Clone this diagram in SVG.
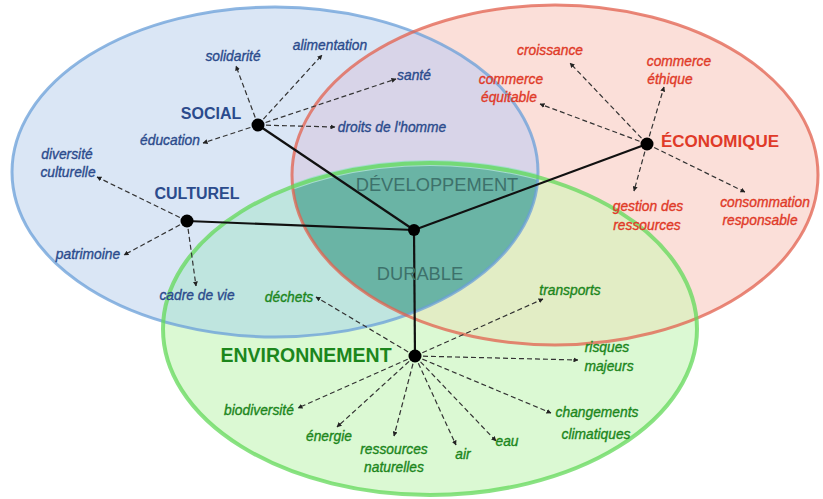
<svg xmlns="http://www.w3.org/2000/svg" width="823" height="499" viewBox="0 0 823 499">
<defs>
<style>
.lbl{font-family:"Liberation Sans",Arial,sans-serif;font-style:italic;font-size:13.8px;stroke-width:0.35}
.soc{fill:#2b4b8c;stroke:#2b4b8c}
.eco{fill:#e03a28;stroke:#e03a28}
.env{fill:#1c861c;stroke:#1c861c}
.head{font-family:"Liberation Sans",Arial,sans-serif;font-weight:bold;stroke:none}
.dev{font-family:"Liberation Sans",Arial,sans-serif;font-size:18.3px;fill:#3d716b}
.dash{stroke:#333;stroke-width:1.2;stroke-dasharray:5 3;fill:none;marker-end:url(#ah)}
.solid{stroke:#111;stroke-width:2.2;fill:none}
.dot{fill:#000}
</style>
<marker id="ah" viewBox="0 0 10 10" refX="9" refY="5" markerWidth="5" markerHeight="5" orient="auto" markerUnits="userSpaceOnUse"><path d="M0,0 L10,5 L0,10 z" fill="#222"/></marker>
<clipPath id="cB"><ellipse cx="275" cy="172" rx="263" ry="165"/></clipPath>
<clipPath id="cR"><ellipse cx="555" cy="175" rx="263" ry="170"/></clipPath>
</defs>
<g id="ellipses">
<ellipse cx="275" cy="172" rx="263" ry="165" fill="#dae6f5"/>
<ellipse cx="555" cy="175" rx="263" ry="170" fill="#fbdfd9"/>
<ellipse cx="430" cy="329" rx="267" ry="166" fill="#dbf9d3"/>
<g clip-path="url(#cB)"><ellipse cx="555" cy="175" rx="263" ry="170" fill="#d8d4e8"/><ellipse cx="430" cy="329" rx="267" ry="166" fill="#bfe5df"/></g>
<g clip-path="url(#cR)"><ellipse cx="430" cy="329" rx="267" ry="166" fill="#e2edc5"/></g>
<g clip-path="url(#cB)"><g clip-path="url(#cR)"><ellipse cx="430" cy="329" rx="267" ry="166" fill="#6ab4a5" stroke="#a6dccf" stroke-width="6"/></g></g>
<ellipse cx="275" cy="172" rx="263" ry="165" fill="none" stroke="#6a9fd8" stroke-width="3" stroke-opacity="0.75"/>
<ellipse cx="555" cy="175" rx="263" ry="170" fill="none" stroke="#e2604e" stroke-width="3" stroke-opacity="0.75"/>
<ellipse cx="430" cy="329" rx="267" ry="166" fill="none" stroke="#63d85a" stroke-width="4" stroke-opacity="0.75"/>
</g>
<g id="connectors">
<line class="solid" x1="258" y1="125" x2="414" y2="230"/>
<line class="solid" x1="187" y1="221" x2="414" y2="230"/>
<line class="solid" x1="647" y1="144" x2="414" y2="230"/>
<line class="solid" x1="414" y1="230" x2="415" y2="356"/>
<line class="dash" x1="258" y1="125" x2="236" y2="66"/>
<line class="dash" x1="258" y1="125" x2="322" y2="55"/>
<line class="dash" x1="258" y1="125" x2="396" y2="79"/>
<line class="dash" x1="258" y1="125" x2="335" y2="127"/>
<line class="dash" x1="258" y1="125" x2="203" y2="143"/>
<line class="dash" x1="187" y1="221" x2="97" y2="177"/>
<line class="dash" x1="187" y1="221" x2="124" y2="255"/>
<line class="dash" x1="187" y1="221" x2="196" y2="286"/>
<line class="dash" x1="647" y1="144" x2="570" y2="63"/>
<line class="dash" x1="647" y1="144" x2="540" y2="104"/>
<line class="dash" x1="647" y1="144" x2="664" y2="87"/>
<line class="dash" x1="647" y1="144" x2="634" y2="191"/>
<line class="dash" x1="647" y1="144" x2="745" y2="192"/>
<line class="dash" x1="415" y1="356" x2="316" y2="297"/>
<line class="dash" x1="415" y1="356" x2="543" y2="299"/>
<line class="dash" x1="415" y1="356" x2="578" y2="360"/>
<line class="dash" x1="415" y1="356" x2="298" y2="408"/>
<line class="dash" x1="415" y1="356" x2="337" y2="427"/>
<line class="dash" x1="415" y1="356" x2="394" y2="436"/>
<line class="dash" x1="415" y1="356" x2="456" y2="445"/>
<line class="dash" x1="415" y1="356" x2="496" y2="441"/>
<line class="dash" x1="415" y1="356" x2="551" y2="413"/>
</g>
<g id="center">
<text class="dev" x="437" y="191" text-anchor="middle">DÉVELOPPEMENT</text>
<text class="dev" x="420" y="280" text-anchor="middle">DURABLE</text>
<circle class="dot" cx="414" cy="230" r="6"/>
</g>
<g id="social">
<circle class="dot" cx="258" cy="125" r="6.5"/>
<text class="head soc" x="211" y="119" font-size="16" text-anchor="middle">SOCIAL</text>
<text class="lbl soc" x="233" y="61" text-anchor="middle">solidarité</text>
<text class="lbl soc" x="330" y="50" text-anchor="middle">alimentation</text>
<text class="lbl soc" x="414" y="80" text-anchor="middle">santé</text>
<text class="lbl soc" x="392" y="132" text-anchor="middle">droits de l'homme</text>
<text class="lbl soc" x="170" y="145" text-anchor="middle">éducation</text>
</g>
<g id="culturel">
<circle class="dot" cx="187" cy="221" r="6.5"/>
<text class="head soc" x="197" y="199" font-size="16" text-anchor="middle">CULTUREL</text>
<text class="lbl soc" x="67" y="159" text-anchor="middle">diversité</text>
<text class="lbl soc" x="68" y="177" text-anchor="middle">culturelle</text>
<text class="lbl soc" x="88" y="259" text-anchor="middle">patrimoine</text>
<text class="lbl soc" x="197" y="300" text-anchor="middle">cadre de vie</text>
</g>
<g id="economique">
<circle class="dot" cx="647" cy="144" r="6.5"/>
<text class="head eco" x="720" y="147" font-size="17" text-anchor="middle">ÉCONOMIQUE</text>
<text class="lbl eco" x="550" y="55" text-anchor="middle">croissance</text>
<text class="lbl eco" x="511" y="84" text-anchor="middle">commerce</text>
<text class="lbl eco" x="509" y="102" text-anchor="middle">équitable</text>
<text class="lbl eco" x="679" y="66" text-anchor="middle">commerce</text>
<text class="lbl eco" x="670" y="84" text-anchor="middle">éthique</text>
<text class="lbl eco" x="648" y="211" text-anchor="middle">gestion des</text>
<text class="lbl eco" x="647" y="230" text-anchor="middle">ressources</text>
<text class="lbl eco" x="765" y="207" text-anchor="middle">consommation</text>
<text class="lbl eco" x="760" y="225" text-anchor="middle">responsable</text>
</g>
<g id="environnement">
<circle class="dot" cx="415" cy="356" r="6.5"/>
<text class="head env" x="306" y="362" font-size="19.5" text-anchor="middle">ENVIRONNEMENT</text>
<text class="lbl env" x="289" y="302" text-anchor="middle">déchets</text>
<text class="lbl env" x="570" y="295" text-anchor="middle">transports</text>
<text class="lbl env" x="607" y="352" text-anchor="middle">risques</text>
<text class="lbl env" x="609" y="371" text-anchor="middle">majeurs</text>
<text class="lbl env" x="259" y="415" text-anchor="middle">biodiversité</text>
<text class="lbl env" x="329" y="441" text-anchor="middle">énergie</text>
<text class="lbl env" x="394" y="454" text-anchor="middle">ressources</text>
<text class="lbl env" x="394" y="472" text-anchor="middle">naturelles</text>
<text class="lbl env" x="463" y="459" text-anchor="middle">air</text>
<text class="lbl env" x="507" y="446" text-anchor="middle">eau</text>
<text class="lbl env" x="597" y="417" text-anchor="middle">changements</text>
<text class="lbl env" x="596" y="439" text-anchor="middle">climatiques</text>
</g>
</svg>
